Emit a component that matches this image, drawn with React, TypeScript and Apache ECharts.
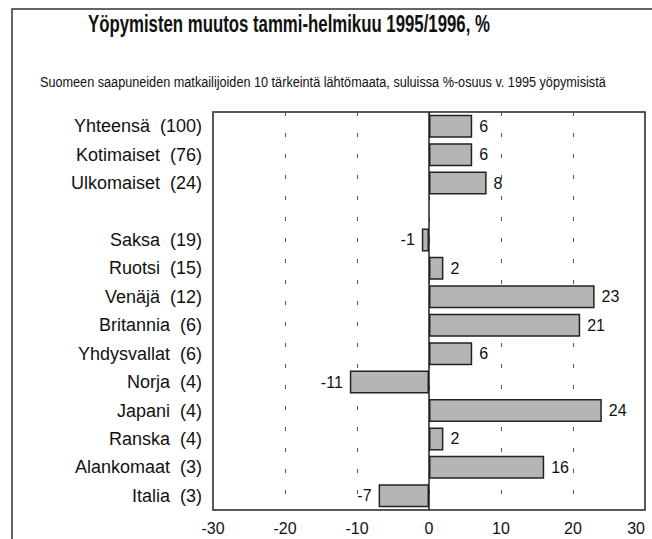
import React, { useEffect, useRef } from 'react';
import * as echarts from 'echarts';

const titleText = 'Yöpymisten muutos tammi-helmikuu 1995/1996, %';
const subtitleText = 'Suomeen saapuneiden matkailijoiden 10 tärkeintä lähtömaata, suluissa %-osuus v. 1995 yöpymisistä';
const categories = ['Yhteensä', 'Kotimaiset', 'Ulkomaiset', '', 'Saksa', 'Ruotsi', 'Venäjä', 'Britannia', 'Yhdysvallat', 'Norja', 'Japani', 'Ranska', 'Alankomaat', 'Italia'];
const shares = ['100', '76', '24', '', '19', '15', '12', '6', '6', '4', '4', '4', '3', '3'];
const changes: (number | null)[] = [6, 6, 8, null, -1, 2, 23, 21, 6, -11, 24, 2, 16, -7];
const xMin = -30;
const xMax = 30;
const xStep = 10;

const FONT = "'Liberation Sans', Arial, sans-serif";

export default function App() {
  const ref = useRef<HTMLDivElement>(null);
  useEffect(() => {
    if (!ref.current) return;
    const chart = echarts.init(ref.current, undefined, { renderer: 'svg' });
    const labels = categories.map((c, i) => (c ? `${c}  (${shares[i]})` : ''));
    chart.setOption({
      animation: false,
      backgroundColor: '#ffffff',
      textStyle: { fontFamily: FONT },
      graphic: [
        {
          type: 'rect',
          shape: { x: 12, y: 9, width: 700, height: 600 },
          style: { fill: 'none', stroke: '#333', lineWidth: 1.5 },
          silent: true,
        },
        {
          type: 'text',
          x: 88,
          y: 12,
          scaleX: 0.73,
          style: {
            text: titleText,
            fontFamily: FONT,
            fontSize: 23,
            fontWeight: 'bold',
            fill: '#111',
            verticalAlign: 'top',
          },
        },
        {
          type: 'text',
          x: 40,
          y: 75,
          scaleX: 0.905,
          style: {
            text: subtitleText,
            fontFamily: FONT,
            fontSize: 14,
            fill: '#111',
            verticalAlign: 'top',
          },
        },
      ],
      grid: {
        left: 213,
        right: 7,
        top: 112,
        bottom: 29,
        show: true,
        borderColor: '#222',
        borderWidth: 1.5,
        backgroundColor: 'transparent',
        outerBoundsMode: 'none',
        containLabel: false,
      },
      xAxis: {
        type: 'value',
        min: xMin,
        max: xMax,
        interval: xStep,
        axisLine: { show: false },
        axisTick: { show: false },
        axisLabel: { fontFamily: FONT, fontSize: 16, color: '#111', margin: 10, alignMaxLabel: 'right' },
        splitLine: { show: true, lineStyle: { type: [4, 17], color: '#555', width: 1 } },
      },
      yAxis: {
        type: 'category',
        data: labels,
        inverse: true,
        axisLine: { show: false, onZero: false },
        axisTick: { show: false },
        axisLabel: { fontFamily: FONT, fontSize: 18, color: '#111', margin: 11 },
        splitLine: { show: false },
      },
      series: [
        {
          type: 'bar',
          barWidth: 23,
          data: changes.map((v) =>
            v === null
              ? '-'
              : { value: v, label: { position: v < 0 ? 'left' : 'right' } }
          ),
          itemStyle: { color: '#b5b5b5', borderColor: '#222', borderWidth: 1.5 },
          label: {
            show: true,
            fontFamily: FONT,
            fontSize: 16,
            color: '#111',
            distance: 7,
          },
          markLine: {
            silent: true,
            symbol: ['none', 'none'],
            label: { show: false },
            lineStyle: { type: 'solid', color: '#222', width: 1.5 },
            data: [{ xAxis: 0 }],
          },
        },
      ],
    });
    return () => chart.dispose();
  }, []);
  return <div ref={ref} style={{ width: 652, height: 539, position: 'absolute', left: 0, top: 0 }} />;
}
